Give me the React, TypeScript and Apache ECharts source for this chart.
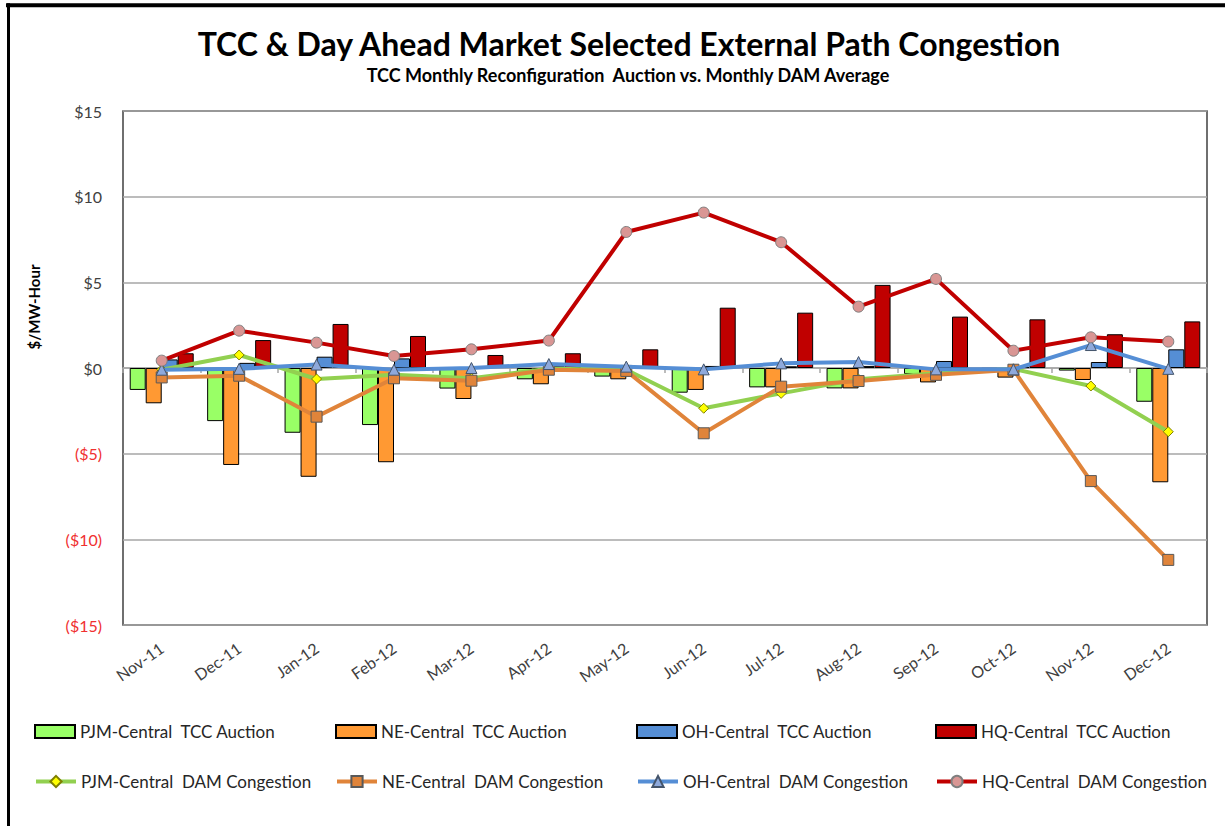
import React, { useEffect, useRef } from "react";
import * as echarts from "echarts";

const months = ["Nov-11", "Dec-11", "Jan-12", "Feb-12", "Mar-12", "Apr-12", "May-12", "Jun-12", "Jul-12", "Aug-12", "Sep-12", "Oct-12", "Nov-12", "Dec-12"];

const pjmTcc = [-1.28, -3.1, -3.78, -3.33, -1.2, -0.66, -0.5, -1.44, -1.13, -1.19, -0.35, -0.05, -0.15, -1.97];
const neTcc = [-2.06, -5.66, -6.35, -5.5, -1.81, -0.95, -0.66, -1.28, -1.13, -1.19, -0.84, -0.56, -0.7, -6.67];
const ohTcc = [0.5, 0.3, 0.66, 0.56, 0.05, 0.1, 0.05, 0.12, 0.1, 0.12, 0.41, 0.05, 0.35, 1.09];
const hqTcc = [0.86, 1.63, 2.57, 1.87, 0.76, 0.86, 1.09, 3.52, 3.23, 4.85, 3.0, 2.84, 1.97, 2.72];

const pjmDam = [-0.1, 0.76, -0.64, -0.4, -0.6, -0.05, -0.1, -2.35, -1.48, -0.65, -0.3, -0.05, -1.05, -3.72];
const neDam = [-0.55, -0.45, -2.84, -0.6, -0.74, -0.1, -0.17, -3.81, -1.09, -0.76, -0.4, -0.1, -6.6, -11.2];
const ohDam = [-0.1, -0.05, 0.2, -0.1, 0.0, 0.23, 0.08, -0.08, 0.27, 0.35, -0.08, -0.08, 1.34, -0.05];
const hqDam = [0.43, 2.18, 1.48, 0.7, 1.09, 1.6, 7.94, 9.07, 7.34, 3.58, 5.2, 1.01, 1.79, 1.54];

const yMin = -15;
const yMax = 15;
const yStep = 5;

const barNames = ["PJM-Central  TCC Auction", "NE-Central  TCC Auction", "OH-Central  TCC Auction", "HQ-Central  TCC Auction"];
const lineNames = ["PJM-Central  DAM Congestion", "NE-Central  DAM Congestion", "OH-Central  DAM Congestion", "HQ-Central  DAM Congestion"];

const FONT = "Lato, 'Open Sans', sans-serif";

export default function App() {
  const ref = useRef<HTMLDivElement>(null);

  useEffect(() => {
    const chart = echarts.init(ref.current!, null, { renderer: "svg" });

    const barColors = ["#99FF66", "#FF9933", "#558ED5", "#C00000"];
    const barData = [pjmTcc, neTcc, ohTcc, hqTcc];
    const lineColors = ["#92D050", "#E0843A", "#558ED5", "#C00000"];
    const lineData = [pjmDam, neDam, ohDam, hqDam];
    const symbols = ["diamond", "rect", "triangle", "circle"];
    const symbolFill = ["#FFFF00", "#E0843A", "#8EA9DB", "#D99694"];
    const symbolBorder = ["#7F7F00", "#595959", "#44546A", "#7F7F7F"];
    const symbolSizes = [10, 11, 11, 11];

    const legendCols = [34, 335, 636, 935];

    const legends: any[] = [];
    barNames.forEach((n, i) => {
      legends.push({
        data: [n],
        left: legendCols[i],
        top: 723,
        padding: 0,
        itemWidth: 40,
        itemHeight: 13,
        itemGap: 4,
        icon: "rect",
        textStyle: { fontFamily: FONT, fontSize: 17, color: "#262626" },
      });
    });
    lineNames.forEach((n, i) => {
      legends.push({
        data: [n],
        left: legendCols[i],
        top: 773,
        padding: 0,
        itemWidth: 40,
        itemHeight: 14,
        itemGap: 4,
        lineStyle: { width: 4 },
        textStyle: { fontFamily: FONT, fontSize: 17, color: "#262626" },
      });
    });

    const series: any[] = [];
    barNames.forEach((n, i) => {
      series.push({
        name: n,
        type: "bar",
        xAxisIndex: 0,
        data: barData[i],
        barWidth: 16,
        barGap: "0%",
        itemStyle: { color: barColors[i], borderColor: "#000", borderWidth: 1 },
        z: 2,
      });
    });
    lineNames.forEach((n, i) => {
      series.push({
        name: n,
        type: "line",
        xAxisIndex: 0,
        data: lineData[i],
        symbol: symbols[i],
        symbolSize: symbolSizes[i],
        lineStyle: { color: lineColors[i], width: 4 },
        itemStyle: { color: symbolFill[i], borderColor: symbolBorder[i], borderWidth: 1 },
        z: 3 + i,
      });
    });

    chart.setOption({
      animation: false,
      backgroundColor: "#ffffff",
      grid: {
        left: 123,
        right: 18,
        top: 111,
        bottom: 201,
        show: true,
        borderColor: "#404040",
        borderWidth: 1.5,
        backgroundColor: "transparent",
      },
      xAxis: [
        {
          type: "category",
          data: months,
          position: "bottom",
          axisLine: { show: false, onZero: false },
          axisTick: { show: false },
          axisLabel: {
            interval: 0,
            rotate: 35,
            margin: 21,
            fontFamily: FONT,
            fontSize: 16,
            color: "#404040",
          },
          splitLine: { show: false },
        },
        {
          type: "category",
          data: months,
          position: "bottom",
          axisLine: { show: true, onZero: true, onZeroAxisIndex: 0, lineStyle: { color: "#A6A6A6", width: 1.5 } },
          axisTick: { show: true, length: 5, lineStyle: { color: "#A6A6A6", width: 1.5 } },
          axisLabel: { show: false },
          splitLine: { show: false },
        },
      ],
      yAxis: {
        type: "value",
        min: yMin,
        max: yMax,
        interval: yStep,
        axisLine: { show: false },
        axisTick: { show: false },
        splitLine: { show: true, lineStyle: { color: "#A6A6A6", width: 1.5 } },
        axisLabel: {
          margin: 21,
          fontFamily: FONT,
          fontSize: 16,
          color: (v: any) => (Number(v) < 0 ? "#F03030" : "#404040"),
          formatter: (v: number) => (v < 0 ? `($${-v})` : `$${v}`),
        },
      },
      legend: legends,
      graphic: [
        { type: "line", shape: { x1: 6, y1: 5.3, x2: 1225, y2: 5.3 }, style: { stroke: "#000", lineWidth: 4 } },
        { type: "line", shape: { x1: 8.5, y1: 3.3, x2: 8.5, y2: 826 }, style: { stroke: "#000", lineWidth: 3 } },
        {
          type: "text",
          x: 629,
          y: 43,
          style: {
            text: "TCC & Day Ahead Market Selected External Path Congestion",
            font: `bold 32px ${FONT}`,
            fill: "#000",
            textAlign: "center",
            textVerticalAlign: "middle",
          },
        },
        {
          type: "text",
          x: 628,
          y: 75,
          style: {
            text: "TCC Monthly Reconfiguration  Auction vs. Monthly DAM Average",
            font: `bold 18px ${FONT}`,
            fill: "#000",
            textAlign: "center",
            textVerticalAlign: "middle",
          },
        },
        {
          type: "text",
          x: 34,
          y: 307,
          rotation: Math.PI / 2,
          style: {
            text: "$/MW-Hour",
            font: `bold 15px ${FONT}`,
            fill: "#000",
            textAlign: "center",
            textVerticalAlign: "middle",
          },
        },
      ],
      series,
    });

    return () => chart.dispose();
  }, []);

  return (
    <div
      ref={ref}
      style={{ position: "fixed", left: 0, top: 0, width: 1225, height: 826, background: "#fff" }}
    />
  );
}
